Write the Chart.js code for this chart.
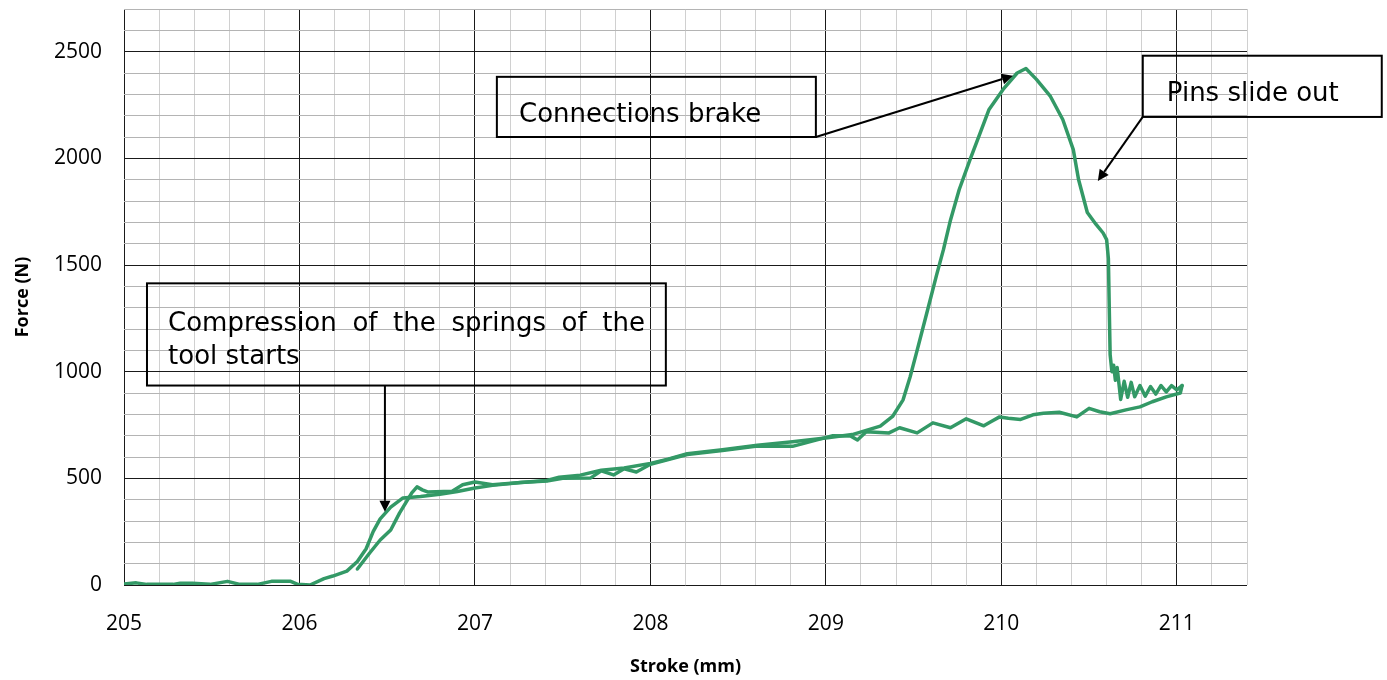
<!DOCTYPE html>
<html>
<head>
<meta charset="utf-8">
<script src="https://cdn.jsdelivr.net/npm/chart.js@4.4.1/dist/chart.umd.min.js"></script>
<style>
  html, body { margin: 0; padding: 0; background: #ffffff; }
  #wrap { width: 1387px; height: 680px; position: relative; }
</style>
</head>
<body>
<div id="wrap"><canvas id="forceChart"></canvas></div>
<script>
// loading path: stroke (mm) / force (N)
const outStroke = [205.00, 205.07, 205.13, 205.28, 205.32, 205.39, 205.49, 205.59, 205.66, 205.76, 205.84, 205.95, 205.99, 206.06,
  206.14, 206.19, 206.27, 206.33, 206.38, 206.42, 206.46, 206.52, 206.59, 206.69, 206.80, 206.90, 207.00, 207.10, 207.26, 207.41,
  207.48, 207.60, 207.72, 207.85, 208.00, 208.10, 208.21, 208.41, 208.61, 208.81, 209.01, 209.15, 209.23, 209.31, 209.38, 209.44,
  209.48, 209.52, 209.58, 209.63, 209.67, 209.71, 209.76, 209.82, 209.88, 209.93, 210.01, 210.09, 210.14, 210.20, 210.28, 210.35,
  210.41, 210.44, 210.49, 210.54, 210.58, 210.60, 210.61, 210.615, 210.62, 210.63, 210.64, 210.65, 210.66, 210.68, 210.70, 210.72,
  210.74, 210.76, 210.79, 210.82, 210.85, 210.88, 210.91, 210.94, 210.97, 211.00, 211.03];
const outForce = [5, 10, 3, 3, 8, 8, 3, 17, 3, 3, 17, 17, 3, 0,
  30, 42, 65, 110, 170, 250, 310, 365, 408, 415, 425, 438, 455, 467, 480, 490,
  505, 515, 538, 548, 570, 590, 615, 634, 655, 672, 690, 705, 725, 745, 790, 868,
  975, 1100, 1290, 1450, 1572, 1710, 1854, 1990, 2120, 2229, 2323, 2400, 2421, 2370, 2290, 2182,
  2041, 1901, 1746, 1690, 1650, 1619, 1530, 1300, 1080, 1000, 1030, 960, 1020, 870, 955, 880,
  950, 882, 935, 885, 930, 895, 935, 905, 935, 915, 935];

// return path
const backStroke = [211.03, 211.02, 210.94, 210.86, 210.79, 210.71, 210.62, 210.56, 210.50, 210.43, 210.33, 210.24, 210.18, 210.11,
  210.04, 209.99, 209.94, 209.90, 209.80, 209.71, 209.61, 209.52, 209.42, 209.36, 209.23, 209.18, 209.14, 209.04, 208.81, 208.61,
  208.41, 208.21, 208.00, 207.92, 207.85, 207.79, 207.72, 207.66, 207.50, 207.41, 207.26, 207.10, 207.00, 206.93, 206.87, 206.73,
  206.70, 206.67, 206.64, 206.57, 206.52, 206.46, 206.40, 206.33];
const backForce = [935, 900, 882, 859, 835, 821, 803, 812, 828, 788, 810, 805, 798, 776,
  782, 788, 765, 746, 779, 737, 760, 713, 737, 713, 718, 680, 699, 700, 650, 652,
  630, 612, 566, 530, 545, 516, 535, 502, 500, 487, 480, 470, 483, 470, 440, 436,
  446, 460, 432, 337, 258, 211, 150, 75];

const xTickLabels = ['205', '206', '207', '208', '209', '210', '211'];
const yTickLabels = ['0', '500', '1000', '1500', '2000', '2500'];

const lineGreen = '#339966';

function toPoints(xs, ys) {
  return xs.map((x, i) => ({ x: x, y: ys[i] }));
}

function isMajor(v, step) {
  return Math.abs(v / step - Math.round(v / step)) < 1e-6;
}

// callout boxes and arrows, placed in data units
const callouts = [
  { box: [207.125, 2382, 208.943, 2100], lines: ['Connections brake'], textAt: [207.251, 2171],
    arrow: [208.943, 2100, 210.066, 2387] },
  { box: [210.806, 2481, 212.168, 2194], lines: ['Pins slide out'], textAt: [210.943, 2270],
    arrow: [210.806, 2194, 210.55, 1894] },
  { box: [205.131, 1414, 208.088, 935], lines: ['Compression of the springs of the', 'tool starts'],
    textAt: [205.251, 1189], justifyTo: 207.969, lineGap: 1034,
    arrow: [206.487, 935, 206.487, 343] }
];

function drawArrow(ctx, x1, y1, x2, y2) {
  ctx.beginPath();
  ctx.moveTo(x1, y1);
  const ang = Math.atan2(y2 - y1, x2 - x1);
  const headLen = 11, headW = 5.5;
  const bx = x2 - headLen * Math.cos(ang), by = y2 - headLen * Math.sin(ang);
  ctx.lineTo(bx, by);
  ctx.stroke();
  ctx.beginPath();
  ctx.moveTo(x2, y2);
  ctx.lineTo(bx + headW * Math.sin(ang), by - headW * Math.cos(ang));
  ctx.lineTo(bx - headW * Math.sin(ang), by + headW * Math.cos(ang));
  ctx.closePath();
  ctx.fill();
}

const calloutPlugin = {
  id: 'callouts',
  afterDatasetsDraw(chart) {
    const { ctx, scales: { x, y } } = chart;
    ctx.save();
    ctx.strokeStyle = '#000';
    ctx.fillStyle = '#000';
    ctx.lineWidth = 2;
    ctx.font = '26px "DejaVu Sans"';
    ctx.textBaseline = 'alphabetic';
    callouts.forEach(c => {
      const bx1 = x.getPixelForValue(c.box[0]), by1 = y.getPixelForValue(c.box[1]);
      const bx2 = x.getPixelForValue(c.box[2]), by2 = y.getPixelForValue(c.box[3]);
      ctx.strokeRect(bx1, by1, bx2 - bx1, by2 - by1);

      const tx = x.getPixelForValue(c.textAt[0]);
      const ty = y.getPixelForValue(c.textAt[1]);
      if (c.justifyTo) {
        // first line spread over the full box width, the rest left aligned
        const words = c.lines[0].split(' ');
        const wordsW = words.reduce((s, w) => s + ctx.measureText(w).width, 0);
        const right = x.getPixelForValue(c.justifyTo);
        const gap = (right - tx - wordsW) / (words.length - 1);
        let cx = tx;
        words.forEach(w => {
          ctx.fillText(w, cx, ty);
          cx += ctx.measureText(w).width + gap;
        });
        ctx.fillText(c.lines[1], tx, y.getPixelForValue(c.lineGap));
      } else {
        ctx.fillText(c.lines[0], tx, ty);
      }

      const a = c.arrow;
      drawArrow(ctx, x.getPixelForValue(a[0]), y.getPixelForValue(a[1]),
        x.getPixelForValue(a[2]), y.getPixelForValue(a[3]));
    });
    ctx.restore();
  }
};

const tickFont = { family: '"Open Sans"', size: 21 };
const titleFont = { family: '"Open Sans"', size: 18, weight: 'bold' };

new Chart(document.getElementById('forceChart'), {
  type: 'scatter',
  data: {
    datasets: [
      { data: toPoints(outStroke, outForce), showLine: true, borderColor: lineGreen, borderWidth: 3.5,
        pointRadius: 0, tension: 0, borderJoinStyle: 'round', borderCapStyle: 'round' },
      { data: toPoints(backStroke, backForce), showLine: true, borderColor: lineGreen, borderWidth: 3.5,
        pointRadius: 0, tension: 0, borderJoinStyle: 'round', borderCapStyle: 'round' }
    ]
  },
  options: {
    responsive: true,
    maintainAspectRatio: false,
    animation: false,
    layout: { padding: { left: 0, right: 140, top: 9, bottom: 0 } },
    plugins: {
      legend: { display: false },
      tooltip: { enabled: false }
    },
    scales: {
      x: {
        type: 'linear',
        min: 205,
        max: 211.4,
        afterFit: (scale) => { scale.height = 95; scale.paddingLeft = 0; scale.paddingRight = 0; },
        ticks: {
          stepSize: 0.2,
          autoSkip: false,
          maxRotation: 0,
          padding: 26,
          color: '#000',
          font: tickFont,
          callback: (v) => isMajor(v, 1) ? xTickLabels[Math.round(v) - 205] : ''
        },
        grid: {
          drawTicks: false,
          lineWidth: 1,
          color: (c) => isMajor(c.tick.value, 1) ? '#1a1a1a' : '#d0d0d0'
        },
        border: { display: false },
        title: { display: true, text: 'Stroke (mm)', color: '#000', font: titleFont, padding: { top: 0, bottom: 2 } }
      },
      y: {
        type: 'linear',
        min: 0,
        max: 2700,
        afterFit: (scale) => { scale.width = 124; scale.paddingTop = 0; scale.paddingBottom = 0; },
        ticks: {
          stepSize: 100,
          autoSkip: false,
          padding: 22,
          color: '#000',
          font: tickFont,
          callback: (v) => isMajor(v, 500) ? yTickLabels[Math.round(v / 500)] : ''
        },
        grid: {
          drawTicks: false,
          lineWidth: 1,
          color: (c) => isMajor(c.tick.value, 500) ? '#1a1a1a' : '#b4b4b4'
        },
        border: { display: false },
        title: { display: true, text: 'Force (N)', color: '#000', font: titleFont, padding: { top: 12, bottom: 0 } }
      }
    }
  },
  plugins: [calloutPlugin]
});
</script>
</body>
</html>
